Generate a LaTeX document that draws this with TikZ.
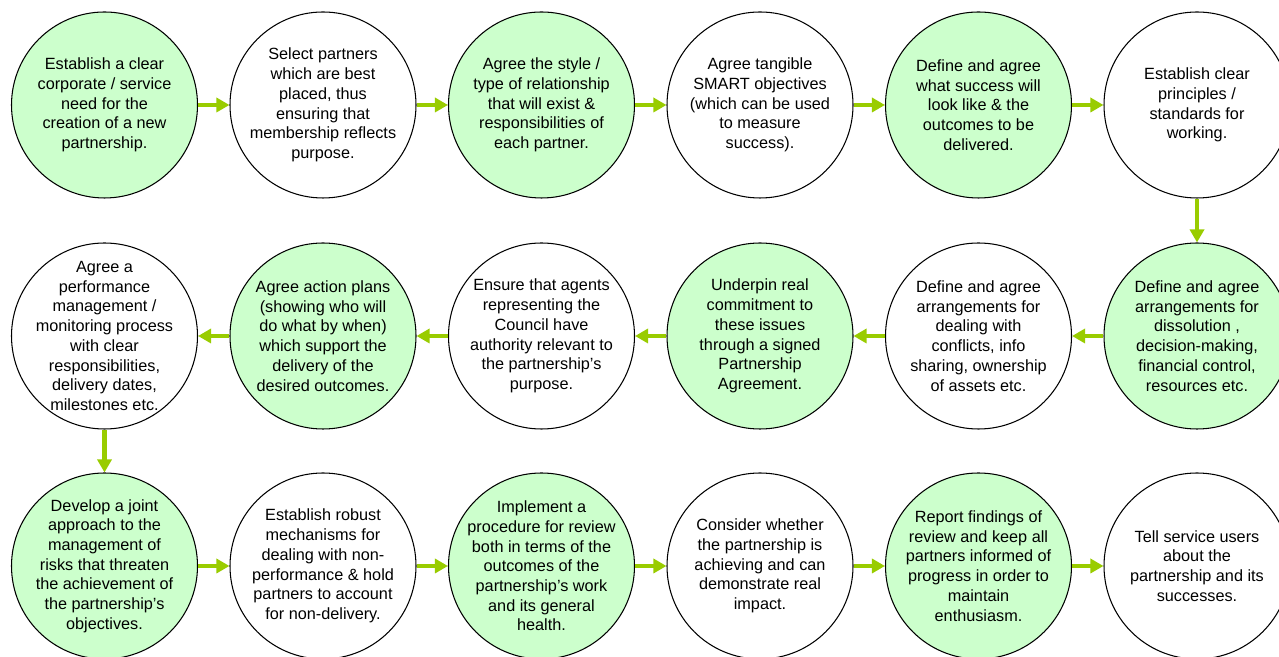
\documentclass[tikz,border=0pt]{standalone}
\usepackage{fontspec}
\setmainfont{Liberation Sans}
\usetikzlibrary{arrows.meta}
\definecolor{stepfill}{HTML}{CCFFCC}
\definecolor{flowgreen}{HTML}{99CC00}

\begin{document}
\begin{tikzpicture}[
		stage/.style={circle, draw=black, line width=0.6pt, minimum size=3.72cm, inner sep=-1.5cm, align=center, font=\fontsize{9.25}{11.2}\selectfont},
		lit/.style={stage, fill=stepfill},
		plain/.style={stage, fill=white},
		flow/.style={-{Triangle[length=0.26cm, width=0.28cm]}, draw=flowgreen, line width=2.3pt}]
		\useasboundingbox (0,0) rectangle (25.58,13.14);

		% Top row (left to right)
		\node[lit]   (s1) at (2.09, 11.04) {Establish a clear\\corporate / service\\need for the\\creation of a new\\partnership.};
		\node[plain] (s2) at (6.46, 11.04) {Select partners\\which are best\\placed, thus\\ensuring that\\membership reflects\\purpose.};
		\node[lit]   (s3) at (10.83, 11.04) {Agree the style /\\type of relationship\\that will exist \&\\responsibilities of\\each partner.};
		\node[plain] (s4) at (15.20, 11.04) {Agree tangible\\SMART objectives\\(which can be used\\to measure\\success).};
		\node[lit]   (s5) at (19.57, 11.04) {Define and agree\\what success will\\look like \& the\\outcomes to be\\delivered.};
		\node[plain] (s6) at (23.94, 11.04) {Establish clear\\principles /\\standards for\\working.};

		% Middle row (right to left)
		\node[lit]   (s7) at (23.94, 6.42) {Define and agree\\arrangements for\\dissolution ,\\decision-making,\\financial control,\\resources etc.};
		\node[plain] (s8) at (19.57, 6.42) {Define and agree\\arrangements for\\dealing with\\conflicts, info\\sharing, ownership\\of assets etc.};
		\node[lit]   (s9) at (15.20, 6.42) {Underpin real\\commitment to\\these issues\\through a signed\\Partnership\\Agreement.};
		\node[plain] (s10) at (10.83, 6.42) {Ensure that agents\\representing the\\Council have\\authority relevant to\\the partnership’s\\purpose.};
		\node[lit]   (s11) at (6.46, 6.42) {Agree action plans\\(showing who will\\do what by when)\\which support the\\delivery of the\\desired outcomes.};
		\node[plain] (s12) at (2.09, 6.42) {Agree a\\performance\\management /\\monitoring process\\with clear\\responsibilities,\\delivery dates,\\milestones etc.};

		% Bottom row (left to right)
		\node[lit]   (s13) at (2.09, 1.82) {Develop a joint\\approach to the\\management of\\risks that threaten\\the achievement of\\the partnership’s\\objectives.};
		\node[plain] (s14) at (6.46, 1.82) {Establish robust\\mechanisms for\\dealing with non-\\performance \& hold\\partners to account\\for non-delivery.};
		\node[lit]   (s15) at (10.83, 1.82) {Implement a\\procedure for review\\both in terms of the\\outcomes of the\\partnership’s work\\and its general\\health.};
		\node[plain] (s16) at (15.20, 1.82) {Consider whether\\the partnership is\\achieving and can\\demonstrate real\\impact.};
		\node[lit]   (s17) at (19.57, 1.82) {Report findings of\\review and keep all\\partners informed of\\progress in order to\\maintain\\enthusiasm.};
		\node[plain] (s18) at (23.94, 1.82) {Tell service users\\about the\\partnership and its\\successes.};

		% Flow arrows
		\foreach \a/\b in {s1/s2, s2/s3, s3/s4, s4/s5, s5/s6, s6/s7, s7/s8, s8/s9, s9/s10, s10/s11, s11/s12, s12/s13, s13/s14, s14/s15, s15/s16, s16/s17, s17/s18}
			\draw[flow] (\a) -- (\b);

	\end{tikzpicture}
\end{document}
